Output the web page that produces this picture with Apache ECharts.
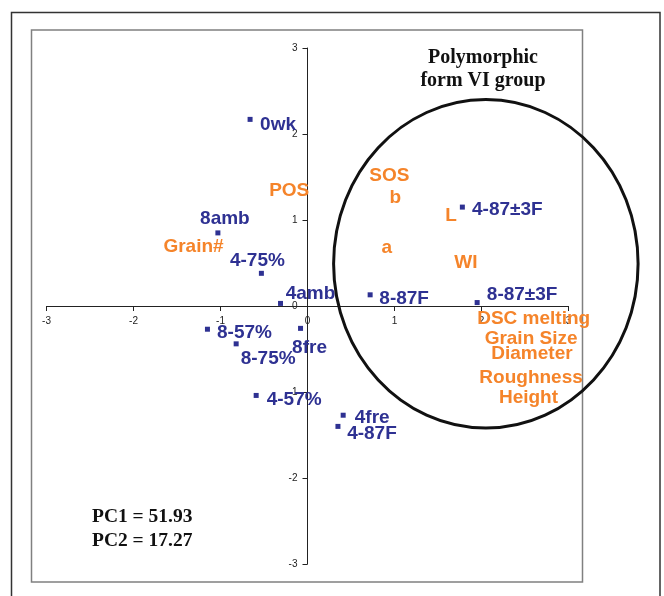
<!DOCTYPE html>
<html>
<head>
<meta charset="utf-8">
<script src="https://cdn.jsdelivr.net/npm/echarts@6/dist/echarts.min.js"></script>
<style>
  html, body { margin: 0; padding: 0; background: #fff; }
  #chart { width: 664px; height: 596px; }
</style>
</head>
<body>
<div id="chart"></div>
<script>
// Sample scores on the first two principal components
const sampleNames = ['0wk', '8amb', '4-75%', '4amb', '8-87F', '4-87\u00b13F', '8-87\u00b13F',
                     '8-57%', '8-75%', '8fre', '4-57%', '4fre', '4-87F'];
const samplePC1 = [-0.66, -1.03, -0.53, -0.31, 0.72, 1.78, 1.95, -1.15, -0.82, -0.08, -0.59, 0.41, 0.35];
const samplePC2 = [2.17, 0.85, 0.38, 0.03, 0.13, 1.15, 0.04, -0.27, -0.44, -0.26, -1.04, -1.27, -1.40];

// Variable loadings (drawn as text only)
const variableNames = ['POS', 'Grain#', 'SOS', 'b', 'L', 'a', 'WI',
                       'DSC melting', 'Grain Size', 'Diameter', 'Roughness', 'Height'];
const variablePC1 = [-0.21, -1.31, 0.94, 1.01, 1.65, 0.91, 1.82, 2.60, 2.57, 2.58, 2.57, 2.54];
const variablePC2 = [1.34, 0.69, 1.52, 1.26, 1.05, 0.68, 0.50, -0.15, -0.38, -0.56, -0.83, -1.07];

// Axis ticks
const axisTicks = [-3, -2, -1, 0, 1, 2, 3];

// Explained variance
const pcVariance = ['PC1 = 51.93', 'PC2 = 17.27'];

// Polymorphic form VI group outline (centre and radii, axis units)
const groupEllipse = { pc1: 2.05, pc2: 0.49, r1: 1.75, r2: 1.91 };

// Label placement for each sample (pixel offset of label centre from marker)
const sampleLabelOffsets = [[28, 5], [7, -14], [-4, -13], [30, -10], [34, 4], [45, 3], [45, -8],
                            [37, 4], [32, 15], [9, 19], [38, 4], [29, 3], [34, 7]];

const BLUE = '#2E3192';
const ORANGE = '#F5842A';
const labelFont = { fontFamily: 'Liberation Sans, Arial, sans-serif', fontWeight: 'bold', fontSize: 19,
                    textBorderWidth: 0, textShadowBlur: 0, opacity: 1 };

const sampleData = sampleNames.map((n, i) => ({
  value: [samplePC1[i], samplePC2[i]],
  name: n,
  label: { offset: sampleLabelOffsets[i] }
}));
const variableData = variableNames.map((n, i) => ({ value: [variablePC1[i], variablePC2[i]], name: n }));

const chart = echarts.init(document.getElementById('chart'), null, { renderer: 'canvas' });

const GRID = { left: 46.5, right: 95.5, top: 48, bottom: 32 };
const W = 664, H = 596;
// The axes cross at the origin, which is the middle of the grid
const xZeroOffset = -((H - GRID.bottom) - (GRID.top + (H - GRID.top - GRID.bottom) / 2));
const yZeroOffset = -((GRID.left + (W - GRID.left - GRID.right) / 2) - GRID.left);

const axisCommon = {
  type: 'value', min: -3, max: 3, interval: 1,
  axisLine: { onZero: false, lineStyle: { color: '#222', width: 1 } },
  axisTick: { show: true, length: 5, lineStyle: { color: '#222' } },
  splitLine: { show: false },
  axisLabel: { color: '#222', fontSize: 10, fontFamily: 'Liberation Sans, Arial, sans-serif', margin: 10,
               formatter: v => axisTicks.includes(v) ? String(v) : '' }
};

chart.setOption({
  animation: false,
  backgroundColor: '#fff',
  grid: GRID,
  xAxis: Object.assign({}, axisCommon, { position: 'bottom', offset: xZeroOffset }),
  yAxis: Object.assign({}, axisCommon, { position: 'left', offset: yZeroOffset }),
  series: [
    {
      type: 'scatter',
      data: sampleData,
      symbol: 'rect',
      symbolSize: 5,
      itemStyle: { color: BLUE, opacity: 1 },
      label: Object.assign({ show: true, position: 'inside', color: BLUE,
                             formatter: p => p.name }, labelFont),
      z: 3
    },
    {
      type: 'scatter',
      data: variableData,
      symbolSize: 0,
      itemStyle: { color: ORANGE, opacity: 1 },
      label: Object.assign({ show: true, position: 'inside', color: ORANGE,
                             formatter: p => p.name }, labelFont),
      z: 3
    }
  ]
});

// Frames, group outline and annotations
const c = chart.convertToPixel({ gridIndex: 0 }, [groupEllipse.pc1, groupEllipse.pc2]);
const e1 = chart.convertToPixel({ gridIndex: 0 }, [groupEllipse.pc1 + groupEllipse.r1, groupEllipse.pc2 - groupEllipse.r2]);
const serif = 'Liberation Serif, Times New Roman, serif';

chart.setOption({
  graphic: [
    { type: 'rect', shape: { x: 11.5, y: 12.5, width: 648.5, height: 600 },
      style: { fill: 'none', stroke: '#333', lineWidth: 1.5 }, silent: true, z: 0 },
    { type: 'rect', shape: { x: 31.5, y: 30, width: 551, height: 552 },
      style: { fill: 'none', stroke: '#808080', lineWidth: 1.5 }, silent: true, z: 0 },
    { type: 'ellipse', shape: { cx: c[0], cy: c[1], rx: e1[0] - c[0], ry: e1[1] - c[1] },
      style: { fill: 'none', stroke: '#111', lineWidth: 3 }, silent: true, z: 10 },
    { type: 'text', x: 483, y: 58,
      style: { text: 'Polymorphic', font: 'bold 20px ' + serif, fill: '#111', align: 'center', verticalAlign: 'middle' }, z: 10 },
    { type: 'text', x: 483, y: 81,
      style: { text: 'form VI group', font: 'bold 20px ' + serif, fill: '#111', align: 'center', verticalAlign: 'middle' }, z: 10 },
    { type: 'text', x: 92, y: 517,
      style: { text: pcVariance[0], font: 'bold 19.5px ' + serif, fill: '#111', align: 'left', verticalAlign: 'middle' }, z: 10 },
    { type: 'text', x: 92, y: 541,
      style: { text: pcVariance[1], font: 'bold 19.5px ' + serif, fill: '#111', align: 'left', verticalAlign: 'middle' }, z: 10 }
  ]
});
</script>
</body>
</html>
